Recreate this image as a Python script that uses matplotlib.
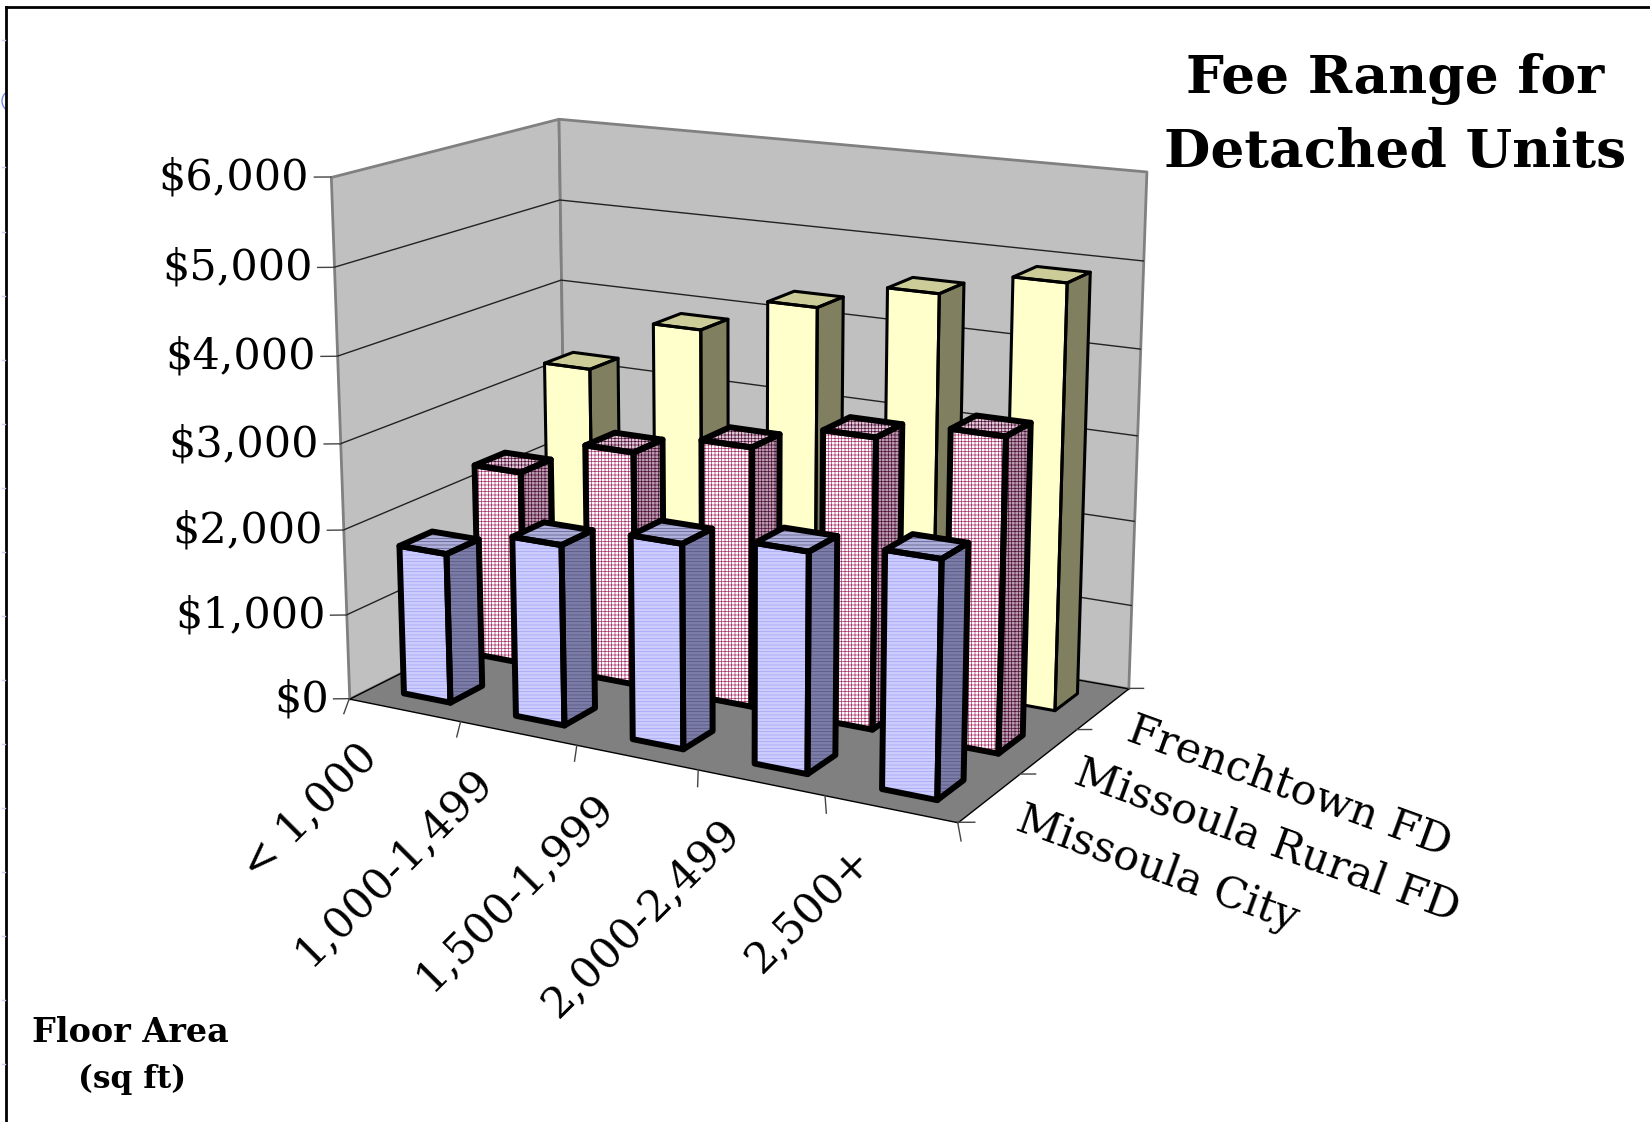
import matplotlib
matplotlib.use('Agg')
import matplotlib.pyplot as plt
from matplotlib.lines import Line2D
from matplotlib.patches import Circle
from matplotlib.transforms import Bbox, IdentityTransform
from mpl_toolkits.mplot3d import proj3d
from mpl_toolkits.mplot3d.art3d import Poly3DCollection

categories = ['< 1,000', '1,000-1,499', '1,500-1,999', '2,000-2,499', '2,500+']
series = ['Missoula City', 'Missoula Rural FD', 'Frenchtown FD']
city = [1760, 2090, 2330, 2470, 2620]
rural = [2330, 2770, 3030, 3340, 3550]
frenchtown = [3230, 3880, 4310, 4630, 4910]
z_ticks = [0, 1000, 2000, 3000, 4000, 5000, 6000]
z_labels = ['$0', '$1,000', '$2,000', '$3,000', '$4,000', '$5,000', '$6,000']

BAR_W = 0.42
BAR_D = 0.42
plt.rcParams['font.family'] = ['DejaVu Serif']
plt.rcParams['hatch.linewidth'] = 0.5

fig = plt.figure(figsize=(16.5, 11.22), dpi=100)
ax = fig.add_axes([0.0997, 0.0945, 0.68, 1.0], projection='3d')
ax.computed_zorder = False
ax.set_proj_type('persp', focal_length=0.5)
ax.view_init(elev=15, azim=-61)
ax.set_box_aspect((660, 400, 520), zoom=0.832)
ax.set_xlim(0, 5, view_margin=0)
ax.set_ylim(0, 3, view_margin=0)
ax.set_zlim(0, 6000, view_margin=0)
ax.set_axis_off()
ax.patch.set_alpha(0)


def label(x, y, z, s, **kw):
    px, py, _ = proj3d.proj_transform(x, y, z, ax.get_proj())
    ax.text2D(px, py, s, transform=ax.transData, **kw)


# walls and floor
wall = '#C0C0C0'
ax.add_collection3d(Poly3DCollection([[(0, 0, 0), (0, 3, 0), (0, 3, 6000), (0, 0, 6000)]],
                                     facecolors=wall, edgecolors='#808080', linewidths=2, zorder=1))
ax.add_collection3d(Poly3DCollection([[(0, 3, 0), (5, 3, 0), (5, 3, 6000), (0, 3, 6000)]],
                                     facecolors=wall, edgecolors='#808080', linewidths=2, zorder=1))
ax.add_collection3d(Poly3DCollection([[(0, 0, 0), (5, 0, 0), (5, 3, 0), (0, 3, 0)]],
                                     facecolors='#808080', edgecolors='black', linewidths=1, zorder=2))

for t, lab in zip(z_ticks, z_labels):
    if 0 < t < 6000:
        ax.plot([0, 0, 5], [0, 3, 3], [t, t, t], color='#222222', lw=1, zorder=3)
    ax.plot([-0.1, 0], [-0.06, 0], [t, t], color='#444444', lw=1, zorder=3)
    label(-0.13, -0.08, t, lab, ha='right', va='center', fontsize=31)

for i in range(6):
    ax.plot([i, i + 0.157], [0, -0.28], [0, 0], color='#444444', lw=1, zorder=3)
for j in range(4):
    ax.plot([5, 5.1], [j, j + 0.056], [0, 0], color='#444444', lw=1, zorder=3)

for i, lab in enumerate(categories):
    label(i + 0.5, -0.6, 0, lab, rotation=45, ha='right', va='top',
          rotation_mode='anchor', fontsize=31)
for j, lab in enumerate(series):
    label(5.22, j + 0.62, 0, lab, rotation=-20, ha='left', va='top',
          rotation_mode='anchor', fontsize=31)

# values, front colour, front hatch colour, side colour, side hatch colour, top colour, hatch, edge width
styles = [
    (city, '#CCCCFF', '#A4A4F4', '#7C7CA8', '#55557F', '#B0B0DC', '-----', 4.3),
    (rural, '#FFFFFF', '#A8326A', '#B89CAC', '#4E0E38', '#E0C8D4', '+++++', 4.3),
    (frenchtown, '#FFFFCC', '#FFFFCC', '#808060', '#808060', '#CCCC99', None, 2.2),
]

order = 10
for j in [2, 1, 0]:
    values, front, front_h, side, side_h, top, hatch, lw = styles[j]
    for i, v in enumerate(values):
        x0, x1 = i + 0.5 - BAR_W / 2, i + 0.5 + BAR_W / 2
        y0, y1 = j + 0.5 - BAR_D / 2, j + 0.5 + BAR_D / 2
        front_face = [(x0, y0, 0), (x1, y0, 0), (x1, y0, v), (x0, y0, v)]
        side_face = [(x1, y0, 0), (x1, y1, 0), (x1, y1, v), (x1, y0, v)]
        top_face = [(x0, y0, v), (x1, y0, v), (x1, y1, v), (x0, y1, v)]
        # hatch takes the edge colour, so each face gets its own layer and the black outline goes on last
        ax.bar3d(x0, y0, 0, BAR_W, BAR_D, v, color=front, shade=False,
                 edgecolor=front_h, linewidth=0, hatch=hatch, zorder=order)
        ax.add_collection3d(Poly3DCollection([side_face, top_face], facecolors=[side, top], edgecolors=side_h,
                                             linewidths=0, hatch=hatch, zorder=order + 1))
        ax.add_collection3d(Poly3DCollection([front_face, side_face, top_face], facecolors=[(0, 0, 0, 0)],
                                             edgecolors='black', linewidths=lw, zorder=order + 2))
        order += 3

fig.text(1395 / 1650, 1 - 79 / 1122, 'Fee Range for', ha='center', va='center',
         fontsize=38.5, fontweight='bold')
fig.text(1395 / 1650, 1 - 152 / 1122, 'Detached Units', ha='center', va='center',
         fontsize=38.5, fontweight='bold')
fig.text(130 / 1650, 1 - 1032 / 1122, 'Floor Area', ha='center', va='center',
         fontsize=24, fontweight='bold')
fig.text(132 / 1650, 1 - 1079 / 1122, '(sq ft)', ha='center', va='center',
         fontsize=22.5, fontweight='bold')

# page frame
fig.add_artist(Line2D([6 / 1650, 6 / 1650], [0, 1 - 7 / 1122], color='black', lw=2))
fig.add_artist(Line2D([6 / 1650, 1], [1 - 7 / 1122, 1 - 7 / 1122], color='black', lw=2))
for y in [40, 167, 232, 296, 360, 424, 488, 552, 616, 680, 744, 808, 872, 936, 1000, 1064]:
    fig.add_artist(Line2D([2 / 1650, 5 / 1650], [1 - y / 1122, 1 - y / 1122], color='#C8D0F0', lw=1))
arc = Circle((13, 1122 - 101), 11, fill=False, edgecolor='#6F8FE8', lw=1, transform=IdentityTransform())
fig.add_artist(arc)
arc.set_clip_box(Bbox([[0, 0], [6, 1122]]))

fig.savefig('out.png', dpi=100)
